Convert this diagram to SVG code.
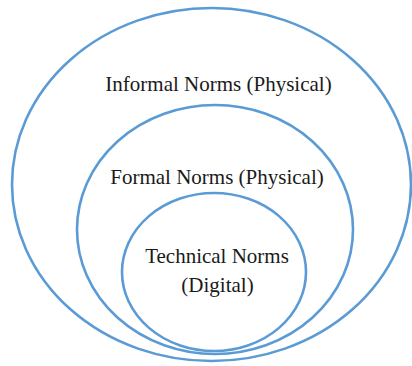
<svg xmlns="http://www.w3.org/2000/svg" width="412" height="366" viewBox="0 0 412 366">
<style>
.ring{fill:none;stroke:#5b9bd5;stroke-width:2.6}
.lbl{font-family:"Liberation Serif","Times New Roman",serif;font-size:21px;fill:#1a1a1a;text-anchor:middle}
</style>
<rect width="412" height="366" fill="#ffffff"/>
<g id="informal">
<ellipse class="ring" cx="211.5" cy="184.5" rx="199.5" ry="176.5"/>
<text class="lbl" x="218.5" y="90.7">Informal Norms (Physical)</text>
</g>
<g id="formal">
<ellipse class="ring" cx="215" cy="229.5" rx="138" ry="124.5"/>
<text class="lbl" x="217" y="184.3">Formal Norms (Physical)</text>
</g>
<g id="technical">
<ellipse class="ring" cx="214" cy="272" rx="92" ry="79"/>
<text class="lbl" x="217" y="263.3">Technical Norms</text>
<text class="lbl" x="217.5" y="291.7">(Digital)</text>
</g>
<g id="connectors"/>
</svg>
